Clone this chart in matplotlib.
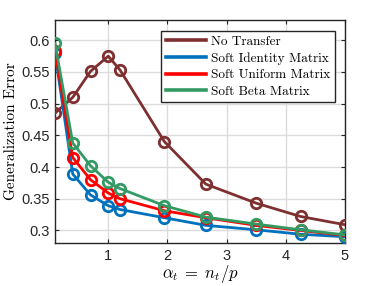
import matplotlib
matplotlib.use("Agg")
import matplotlib.pyplot as plt

alpha = [0.1, 0.4, 0.7, 1.0, 1.2, 1.95, 2.65, 3.5, 4.25, 5.0]
no_transfer = [0.485, 0.510, 0.551, 0.575, 0.553, 0.440, 0.373, 0.343, 0.322, 0.309]
soft_identity = [0.580, 0.389, 0.356, 0.339, 0.333, 0.320, 0.308, 0.301, 0.294, 0.290]
soft_uniform = [0.583, 0.415, 0.380, 0.359, 0.350, 0.331, 0.320, 0.308, 0.300, 0.292]
soft_beta = [0.595, 0.438, 0.402, 0.376, 0.366, 0.339, 0.321, 0.310, 0.301, 0.293]

labels = ["No Transfer", "Soft Identity Matrix", "Soft Uniform Matrix", "Soft Beta Matrix"]
colors = ["#7E2F2F", "#0072BD", "#FF0000", "#349A64"]
series = [no_transfer, soft_identity, soft_uniform, soft_beta]

xticks = [1, 2, 3, 4, 5]
yticks = [0.3, 0.35, 0.4, 0.45, 0.5, 0.55, 0.6]
ytick_labels = ["0.3", "0.35", "0.4", "0.45", "0.5", "0.55", "0.6"]

plt.rcParams['mathtext.fontset'] = 'cm'
fig = plt.figure(figsize=(3.82, 2.86), dpi=100)
ax = fig.add_axes([0.144, 0.150, 0.759, 0.780])

handles = []
for ys, c, lab in zip(series, colors, labels):
    ax.plot(alpha, ys, color=c, lw=2.0, marker='o', ms=7.5, mfc='none',
            mew=2.0, mec=c, zorder=3)
    h, = ax.plot([], [], color=c, lw=2.6, label=lab)
    handles.append(h)

ax.set_xlim(0.1, 5.0)
ax.set_ylim(0.28, 0.632)
ax.set_xticks(xticks)
ax.set_yticks(yticks)
ax.set_yticklabels(ytick_labels)
ax.grid(True, color='#DCDCDC', lw=1.0, zorder=0)
ax.set_axisbelow(True)
ax.tick_params(direction='in', top=True, right=True, length=3, width=0.8,
               color='#262626', labelsize=10.5, labelcolor='#262626', pad=4)
for lab in ax.get_xticklabels() + ax.get_yticklabels():
    lab.set_family('Liberation Sans')
for s in ax.spines.values():
    s.set_color('#262626')
    s.set_linewidth(1.0)

ax.set_xlabel(r'$\alpha_t \;=\; n_t/p$', fontsize=12, labelpad=0)
ax.set_ylabel('Generalization Error', family='cmr10', fontsize=11, labelpad=2)

leg = ax.legend(handles=handles, loc='upper right', bbox_to_anchor=(0.965, 0.95),
                prop={'family': 'cmr10', 'size': 9.5}, frameon=True, fancybox=False,
                edgecolor='#262626', framealpha=1, handlelength=3.0,
                borderpad=0.35, labelspacing=0.32, handletextpad=0.4, borderaxespad=0)
leg.get_frame().set_linewidth(1.0)

fig.savefig('out.png', dpi=100)
